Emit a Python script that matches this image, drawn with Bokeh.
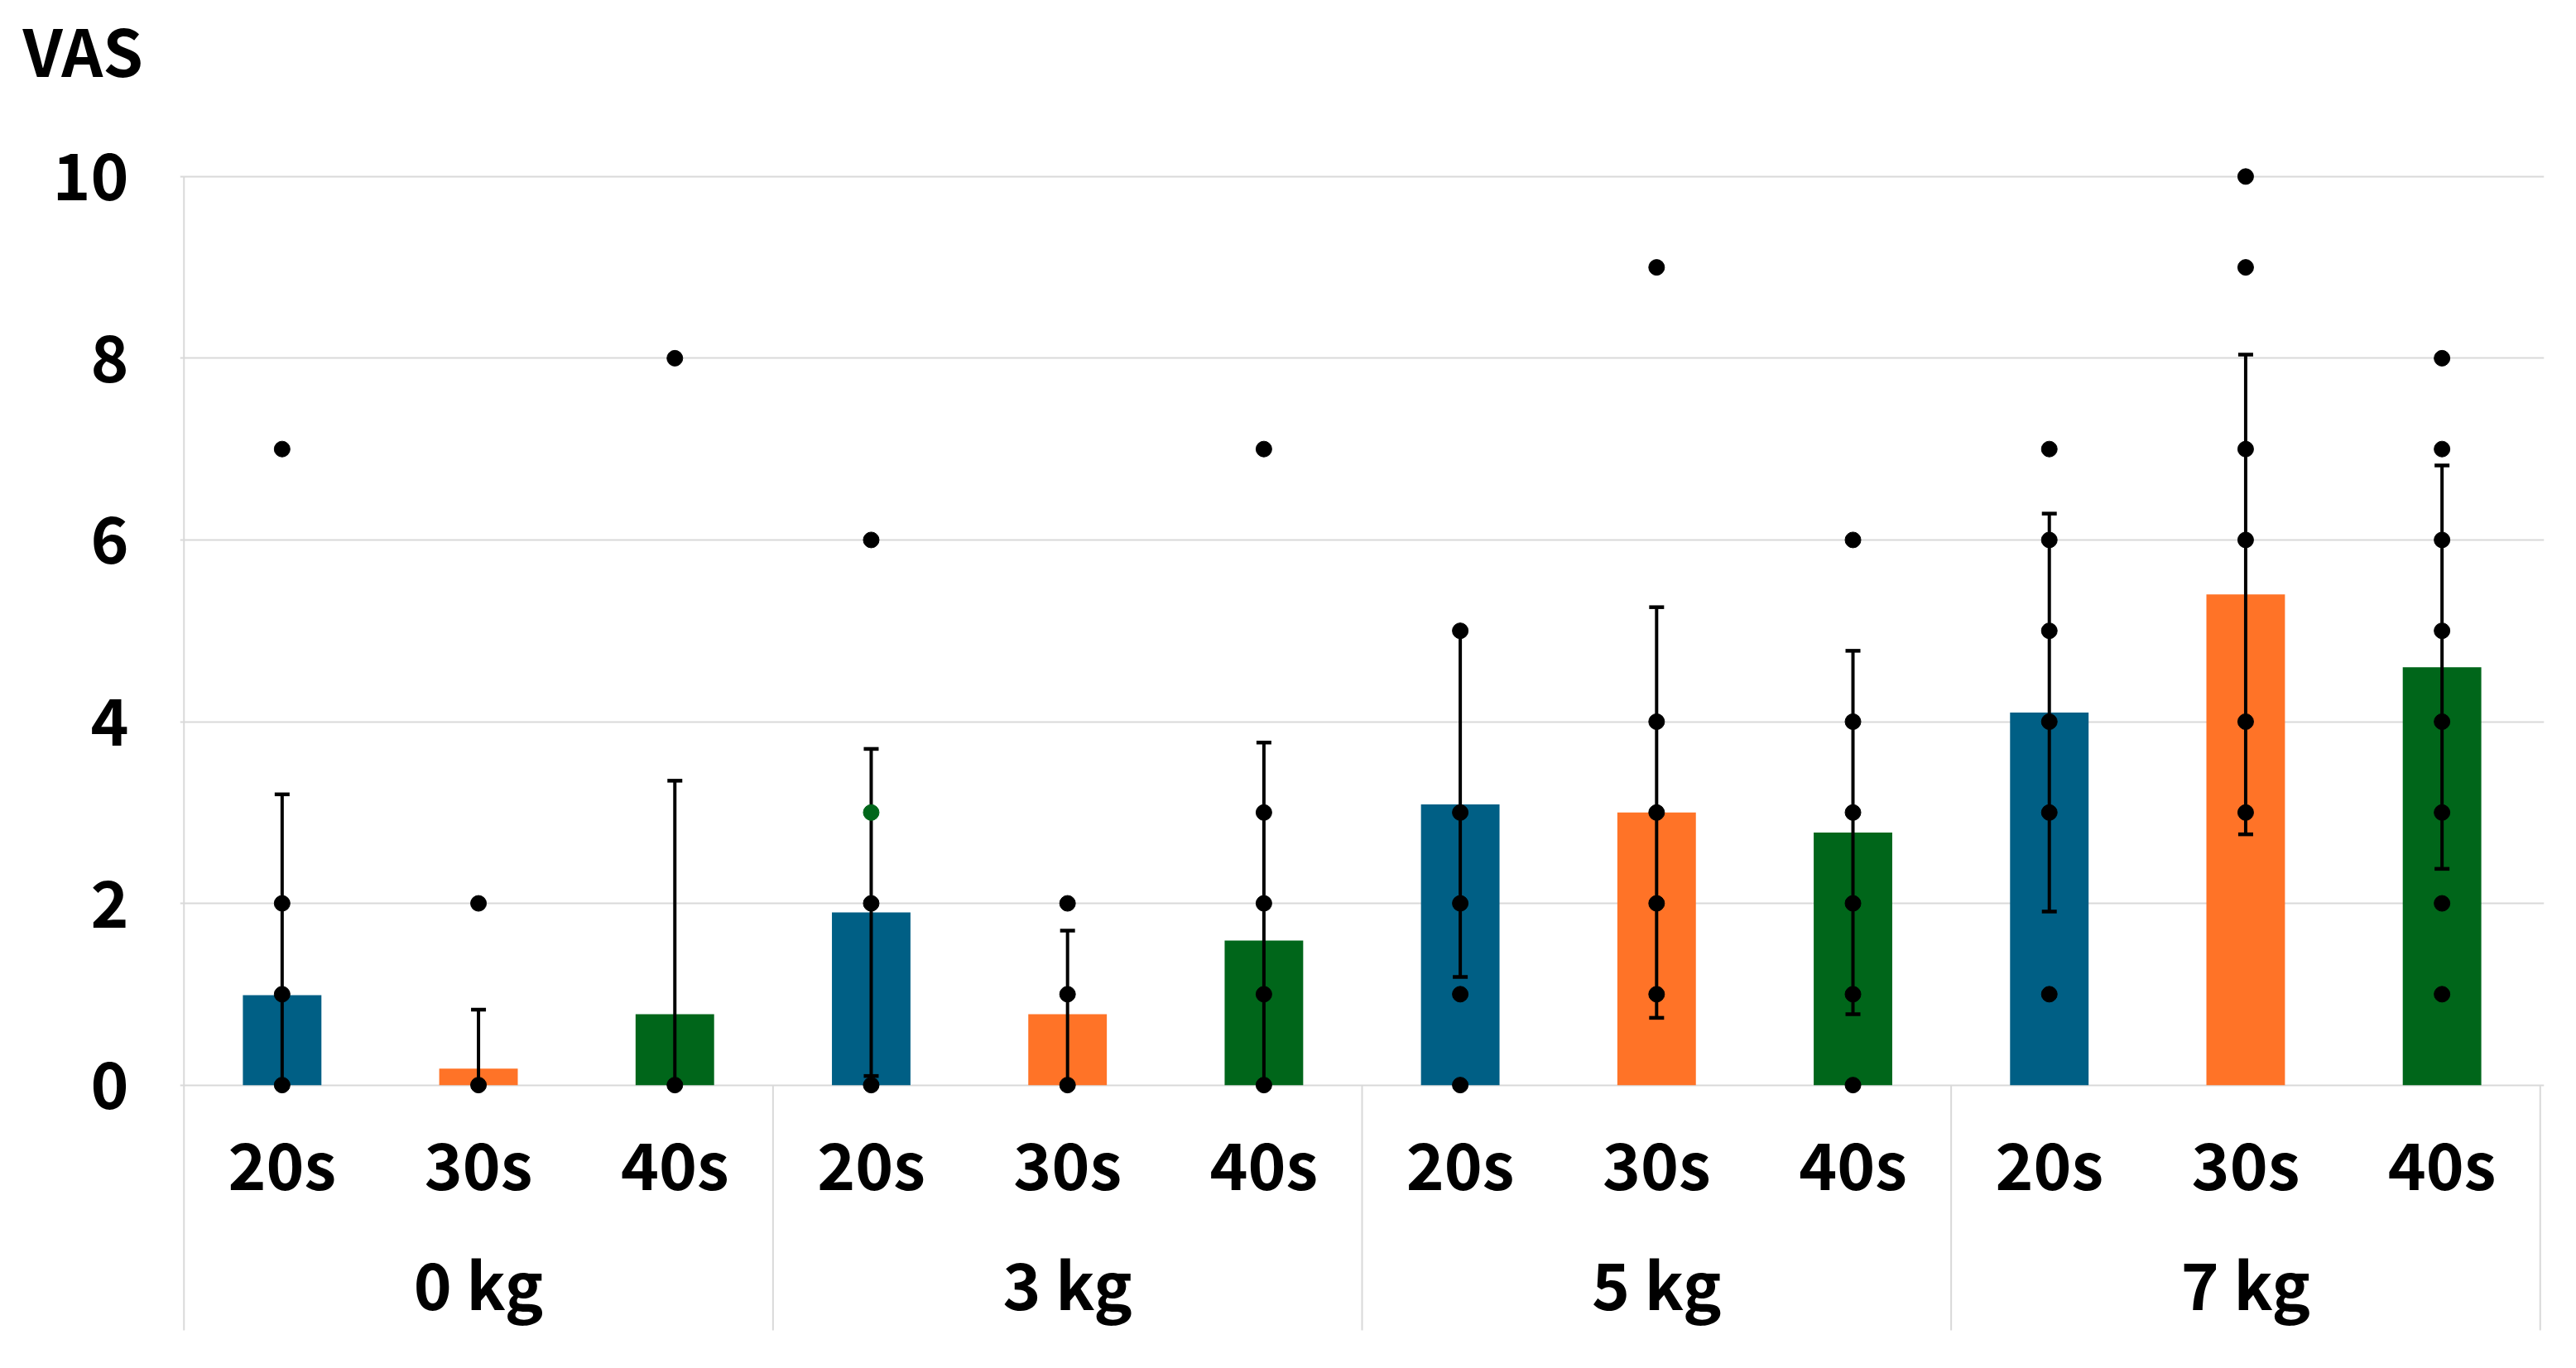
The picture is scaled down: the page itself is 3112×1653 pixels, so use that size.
from bokeh.plotting import figure
from bokeh.models import FactorRange, Range1d, FixedTicker, ColumnDataSource
from bokeh.core.properties import value
from bokeh.embed import file_html
from bokeh.resources import INLINE

# ---- data ----
weights = ["0 kg", "3 kg", "5 kg", "7 kg"]
durations = ["20s", "30s", "40s"]
duration_colors = ["#005F85", "#FF7327", "#00661A"]
means = [0.99, 0.18, 0.78, 1.90, 0.78, 1.59, 3.09, 3.00, 2.78, 4.10, 5.40, 4.60]
sds = [2.21, 0.65, 2.57, 1.80, 0.92, 2.18, 1.90, 2.26, 2.00, 2.19, 2.64, 2.22]
dots = [
    [7, 2, 1, 0], [2, 0], [8, 0],
    [6, 3, 2, 0], [2, 1, 0], [7, 3, 2, 1, 0],
    [5, 3, 2, 1, 0], [9, 4, 3, 2, 1], [6, 4, 3, 2, 1, 0],
    [7, 6, 5, 4, 3, 1], [10, 9, 7, 6, 4, 3], [8, 7, 6, 5, 4, 3, 2, 1],
]
highlight = [("3 kg", "20s", 3)]
highlight_color = "#00661A"
y_ticks = [0, 2, 4, 6, 8, 10]
y_label = "VAS"

FONT = "Noto Sans CJK JP"
GRID = "#D9D9D9"
Y_START, Y_END = -2.90, 10.90
SEP_END = -2.70
FRAME_H = 1515
BORDER_TOP, BORDER_BOTTOM = 114, 10

factors = [(w, d) for w in weights for d in durations]
bar_colors = [duration_colors[i % len(durations)] for i in range(len(factors))]

p = figure(
    x_range=FactorRange(*factors, factor_padding=0, group_padding=0,
                        range_padding=0.02, range_padding_units="absolute"),
    y_range=Range1d(Y_START, Y_END),
    frame_width=2856, frame_height=FRAME_H,
    output_backend="svg", toolbar_location=None, x_axis_location=None,
    min_border_left=217, min_border_right=20,
    min_border_top=BORDER_TOP, min_border_bottom=BORDER_BOTTOM,
    title=y_label,
)
p.outline_line_color = None
p.background_fill_color = "white"

# axis caption "VAS" at top-left (plot title)
p.title.text_font = FONT
p.title.text_font_style = "bold"
p.title.text_font_size = "78px"
p.title.text_color = "black"
p.title.align = "left"
p.title.offset = -190
p.title.standoff = 0

# y axis
p.yaxis.ticker = FixedTicker(ticks=y_ticks)
p.yaxis.major_tick_line_color = None
p.yaxis.minor_tick_line_color = None
p.yaxis.axis_line_color = None
p.yaxis.major_label_text_font = FONT
p.yaxis.major_label_text_font_style = "bold"
p.yaxis.major_label_text_font_size = "78px"
p.yaxis.major_label_text_color = "black"
p.yaxis.major_label_standoff = 56
p.ygrid.ticker = FixedTicker(ticks=y_ticks)
p.ygrid.grid_line_color = GRID
p.ygrid.grid_line_width = 2
p.xgrid.visible = False

# frame / category separators
n = len(durations)
bounds = [i * n for i in range(len(weights) + 1)]
tops = [y_ticks[-1]] + [0] * len(weights)
p.segment(x0=bounds, y0=tops, x1=bounds, y1=[SEP_END] * len(bounds),
          line_color=GRID, line_width=2)

# bars
p.vbar(x=factors, top=means, width=0.4, fill_color=bar_colors, line_color=None)

# error bars (clipped at axis minimum 0, like the original)
upper = [m + s for m, s in zip(means, sds)]
lower = [m - s for m, s in zip(means, sds)]
stem_low = [max(l, 0) for l in lower]
p.segment(x0=factors, y0=stem_low, x1=factors, y1=upper, line_color="black", line_width=4)
p.scatter(x=factors, y=upper, marker="dash", size=18, line_color="black", line_width=4.5)
low_f = [f for f, l in zip(factors, lower) if l > 0]
low_v = [l for l in lower if l > 0]
p.scatter(x=low_f, y=low_v, marker="dash", size=18, line_color="black", line_width=4.5)

# individual values
dx, dy, dc = [], [], []
for f, vals in zip(factors, dots):
    for v in vals:
        dx.append(f)
        dy.append(v)
        hl = any(h[0] == f[0] and h[1] == f[1] and h[2] == v for h in highlight)
        dc.append(highlight_color if hl else "black")
p.scatter(x=dx, y=dy, size=19, fill_color=dc, line_color=dc)

# category labels
sub_src = ColumnDataSource(dict(x=factors, text=[d for _, d in factors]))
p.text(x="x", y=-0.85, text="text", source=sub_src, text_font=value(FONT),
       text_font_style="bold", text_font_size="78px", text_align="center",
       text_baseline="alphabetic", text_color="black")
grp_src = ColumnDataSource(dict(x=weights, text=weights))
p.text(x="x", y=-2.17, text="text", source=grp_src, text_font=value(FONT),
       text_font_style="bold", text_font_size="78px", text_align="center",
       text_baseline="alphabetic", text_color="black")

open("out.html", "w").write(file_html(p, INLINE))
